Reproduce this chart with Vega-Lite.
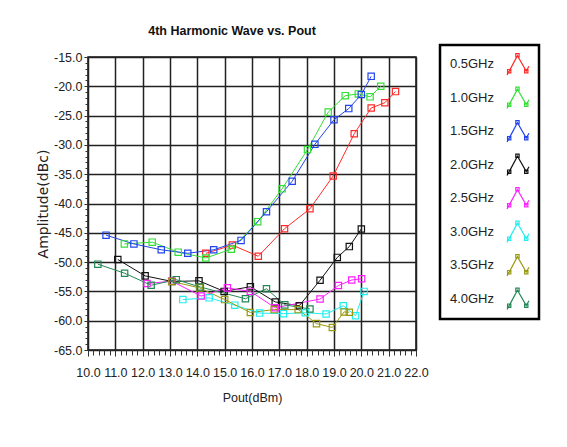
{
  "$schema": "https://vega.github.io/schema/vega-lite/v6.json",
  "width": 328,
  "height": 293,
  "autosize": {"type": "none"},
  "padding": {"left": 88, "top": 57, "right": 151, "bottom": 97},
  "background": "white",
  "title": {"text": "4th Harmonic Wave vs. Pout", "font": "Liberation Sans", "fontSize": 12.5, "fontWeight": "bold", "color": "#111", "anchor": "middle", "dx": -20, "offset": 6},
  "data": {"values": [
    {"series": "0.5GHz", "pout": 14.31, "amp": -48.5},
    {"series": "0.5GHz", "pout": 15.28, "amp": -47.1},
    {"series": "0.5GHz", "pout": 16.23, "amp": -49.0},
    {"series": "0.5GHz", "pout": 17.19, "amp": -44.3},
    {"series": "0.5GHz", "pout": 18.12, "amp": -40.9},
    {"series": "0.5GHz", "pout": 18.97, "amp": -35.3},
    {"series": "0.5GHz", "pout": 19.74, "amp": -28.1},
    {"series": "0.5GHz", "pout": 20.36, "amp": -23.7},
    {"series": "0.5GHz", "pout": 20.86, "amp": -22.8},
    {"series": "0.5GHz", "pout": 21.25, "amp": -20.9},
    {"series": "1.0GHz", "pout": 11.33, "amp": -46.9},
    {"series": "1.0GHz", "pout": 12.35, "amp": -46.6},
    {"series": "1.0GHz", "pout": 13.30, "amp": -48.3},
    {"series": "1.0GHz", "pout": 14.31, "amp": -49.3},
    {"series": "1.0GHz", "pout": 15.24, "amp": -47.8},
    {"series": "1.0GHz", "pout": 16.21, "amp": -43.1},
    {"series": "1.0GHz", "pout": 17.10, "amp": -37.5},
    {"series": "1.0GHz", "pout": 18.03, "amp": -30.8},
    {"series": "1.0GHz", "pout": 18.79, "amp": -24.4},
    {"series": "1.0GHz", "pout": 19.41, "amp": -21.6},
    {"series": "1.0GHz", "pout": 19.89, "amp": -21.3},
    {"series": "1.0GHz", "pout": 20.32, "amp": -21.8},
    {"series": "1.0GHz", "pout": 20.71, "amp": -20.0},
    {"series": "1.5GHz", "pout": 10.66, "amp": -45.4},
    {"series": "1.5GHz", "pout": 11.68, "amp": -46.9},
    {"series": "1.5GHz", "pout": 12.68, "amp": -47.9},
    {"series": "1.5GHz", "pout": 13.65, "amp": -48.5},
    {"series": "1.5GHz", "pout": 14.60, "amp": -47.9},
    {"series": "1.5GHz", "pout": 15.60, "amp": -46.3},
    {"series": "1.5GHz", "pout": 16.53, "amp": -41.4},
    {"series": "1.5GHz", "pout": 17.47, "amp": -36.2},
    {"series": "1.5GHz", "pout": 18.30, "amp": -29.9},
    {"series": "1.5GHz", "pout": 19.00, "amp": -25.7},
    {"series": "1.5GHz", "pout": 19.54, "amp": -23.8},
    {"series": "1.5GHz", "pout": 20.00, "amp": -21.4},
    {"series": "1.5GHz", "pout": 20.36, "amp": -18.3},
    {"series": "2.0GHz", "pout": 11.09, "amp": -49.55},
    {"series": "2.0GHz", "pout": 12.09, "amp": -52.35},
    {"series": "2.0GHz", "pout": 13.07, "amp": -53.3},
    {"series": "2.0GHz", "pout": 14.06, "amp": -53.2},
    {"series": "2.0GHz", "pout": 14.98, "amp": -55.0},
    {"series": "2.0GHz", "pout": 15.94, "amp": -54.2},
    {"series": "2.0GHz", "pout": 16.85, "amp": -56.8},
    {"series": "2.0GHz", "pout": 17.73, "amp": -57.45},
    {"series": "2.0GHz", "pout": 18.49, "amp": -53.1},
    {"series": "2.0GHz", "pout": 19.12, "amp": -49.2},
    {"series": "2.0GHz", "pout": 19.56, "amp": -47.35},
    {"series": "2.0GHz", "pout": 20.00, "amp": -44.35},
    {"series": "2.5GHz", "pout": 12.16, "amp": -53.65},
    {"series": "2.5GHz", "pout": 13.06, "amp": -53.25},
    {"series": "2.5GHz", "pout": 14.14, "amp": -55.8},
    {"series": "2.5GHz", "pout": 15.10, "amp": -54.4},
    {"series": "2.5GHz", "pout": 15.94, "amp": -55.0},
    {"series": "2.5GHz", "pout": 16.85, "amp": -57.8},
    {"series": "2.5GHz", "pout": 18.49, "amp": -56.3},
    {"series": "2.5GHz", "pout": 19.16, "amp": -54.0},
    {"series": "2.5GHz", "pout": 19.65, "amp": -53.05},
    {"series": "2.5GHz", "pout": 20.01, "amp": -52.85},
    {"series": "3.0GHz", "pout": 13.47, "amp": -56.4},
    {"series": "3.0GHz", "pout": 14.43, "amp": -56.1},
    {"series": "3.0GHz", "pout": 15.37, "amp": -57.35},
    {"series": "3.0GHz", "pout": 16.28, "amp": -58.7},
    {"series": "3.0GHz", "pout": 17.15, "amp": -58.8},
    {"series": "3.0GHz", "pout": 17.95, "amp": -58.65},
    {"series": "3.0GHz", "pout": 18.71, "amp": -58.85},
    {"series": "3.0GHz", "pout": 19.34, "amp": -57.45},
    {"series": "3.0GHz", "pout": 19.79, "amp": -59.15},
    {"series": "3.0GHz", "pout": 20.10, "amp": -55.0},
    {"series": "3.5GHz", "pout": 13.07, "amp": -53.3},
    {"series": "3.5GHz", "pout": 14.08, "amp": -54.4},
    {"series": "3.5GHz", "pout": 15.00, "amp": -56.4},
    {"series": "3.5GHz", "pout": 15.94, "amp": -58.6},
    {"series": "3.5GHz", "pout": 16.81, "amp": -58.1},
    {"series": "3.5GHz", "pout": 17.69, "amp": -58.1},
    {"series": "3.5GHz", "pout": 18.36, "amp": -60.5},
    {"series": "3.5GHz", "pout": 18.94, "amp": -61.15},
    {"series": "3.5GHz", "pout": 19.37, "amp": -58.5},
    {"series": "3.5GHz", "pout": 19.56, "amp": -58.55},
    {"series": "4.0GHz", "pout": 10.36, "amp": -50.35},
    {"series": "4.0GHz", "pout": 11.34, "amp": -51.9},
    {"series": "4.0GHz", "pout": 12.31, "amp": -53.95},
    {"series": "4.0GHz", "pout": 13.23, "amp": -53.0},
    {"series": "4.0GHz", "pout": 14.11, "amp": -54.25},
    {"series": "4.0GHz", "pout": 15.76, "amp": -56.25},
    {"series": "4.0GHz", "pout": 16.53, "amp": -54.55},
    {"series": "4.0GHz", "pout": 17.20, "amp": -57.3},
    {"series": "4.0GHz", "pout": 18.12, "amp": -58.0}
  ]},
  "layer": [
    {
      "mark": {"type": "line", "strokeWidth": 1},
      "encoding": {
        "x": {"field": "pout", "type": "quantitative", "scale": {"domain": [10, 22], "nice": false, "zero": false},
          "axis": {"values": [10, 11, 12, 13, 14, 15, 16, 17, 18, 19, 20, 21, 22], "format": ".1f", "grid": true, "gridColor": "#222", "gridWidth": 1.5, "gridOpacity": 1, "domain": false, "tickSize": 6, "tickColor": "#222", "labelFont": "Liberation Sans", "labelFontSize": 12.5, "labelColor": "#222", "labelPadding": 10, "labelFlush": false, "title": "Pout(dBm)", "titleFont": "Liberation Sans", "titleFontSize": 12.5, "titleFontWeight": "normal", "titleColor": "#222", "titlePadding": 13}},
        "y": {"field": "amp", "type": "quantitative", "scale": {"domain": [-65, -15], "nice": false, "zero": false},
          "axis": {"values": [-15, -20, -25, -30, -35, -40, -45, -50, -55, -60, -65], "format": ".1f", "grid": true, "gridColor": "#222", "gridWidth": 1.5, "gridOpacity": 1, "domain": false, "tickSize": 4, "tickColor": "#222", "labelFont": "Liberation Sans", "labelFontSize": 12.5, "labelColor": "#222", "labelPadding": 2, "labelFlush": false, "title": "Amplitude(dBc)", "titleFont": "DejaVu Sans", "titleFontSize": 14, "titleFontWeight": "normal", "titleColor": "#222", "titlePadding": 3}},
        "color": {"field": "series", "type": "nominal",
          "scale": {"domain": ["0.5GHz", "1.0GHz", "1.5GHz", "2.0GHz", "2.5GHz", "3.0GHz", "3.5GHz", "4.0GHz"],
                    "range": ["#ff2a2a", "#33e033", "#2244ee", "#111111", "#ff22ff", "#22eeee", "#9a9a10", "#228855"]},
          "legend": {"title": null, "orient": "none", "legendX": 352, "legendY": -12, "direction": "vertical",
            "symbolType": "M-1,1L-0.8,0.65L-0.05,-0.75L0.75,0.65L1,0.2M-0.95,0.5h0.3v0.3h-0.3zM-0.2,-0.95h0.3v0.3h-0.3zM0.6,0.5h0.3v0.3h-0.3z",
            "symbolSize": 484, "symbolStrokeWidth": 1.2, "symbolFillColor": "transparent",
            "labelAlign": "right", "labelOffset": -36, "symbolOffset": 59, "rowPadding": 6.5, "padding": 7,
            "strokeColor": "#000", "fillColor": "white",
            "labelFont": "Liberation Sans", "labelFontSize": 13, "labelColor": "#222",
            "encode": {"legend": {"update": {"strokeWidth": {"value": 2.5}}}}}}
      }
    },
    {
      "mark": {"type": "point", "shape": "square", "filled": false, "size": 40, "strokeWidth": 1.2, "opacity": 1},
      "encoding": {
        "x": {"field": "pout", "type": "quantitative", "scale": {"domain": [10, 22], "nice": false, "zero": false},
          "axis": {"tickCount": 60, "labels": false, "grid": false, "domain": false, "tickSize": 5, "tickColor": "#333", "title": null, "orient": "bottom"}},
        "y": {"field": "amp", "type": "quantitative", "scale": {"domain": [-65, -15], "nice": false, "zero": false},
          "axis": {"tickCount": 50, "labels": false, "grid": false, "domain": false, "tickSize": 3, "tickColor": "#333", "title": null, "orient": "left"}},
        "color": {"field": "series", "type": "nominal"}
      }
    }
  ],
  "resolve": {"axis": {"x": "independent", "y": "independent"}},
  "config": {
    "view": {"stroke": "#111", "strokeWidth": 1.5},
    "locale": {"number": {"decimal": ".", "thousands": ",", "grouping": [3], "currency": ["$", ""], "minus": "-"}}
  }
}
